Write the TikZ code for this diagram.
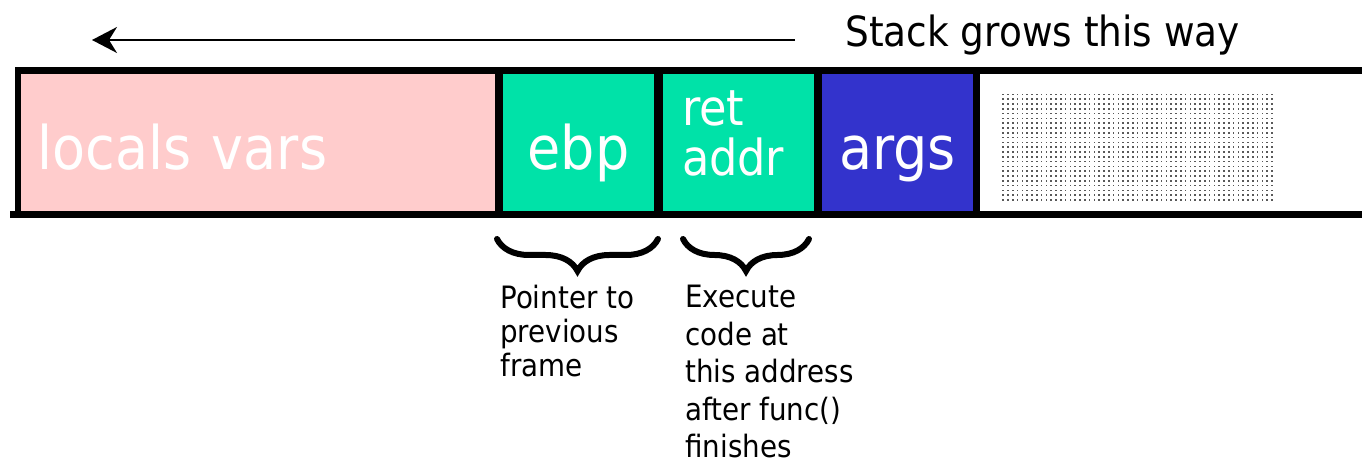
\documentclass[tikz,border=0pt]{standalone}
\usepackage{fontspec}
\setmainfont{DejaVu Sans Condensed}
\usetikzlibrary{positioning,arrows.meta,decorations.pathreplacing,patterns,backgrounds}
\definecolor{LocalPink}{HTML}{FFCCCC}
\definecolor{FrameGreen}{HTML}{00E2A8}
\definecolor{ArgBlue}{HTML}{3333CC}
\pgfdeclarepatternformonly{finedots}{\pgfqpoint{-1pt}{-1pt}}{\pgfqpoint{1pt}{1pt}}{\pgfqpoint{2.4pt}{2.4pt}}{%
  \pgfpathrectangle{\pgfqpoint{-0.4pt}{-0.4pt}}{\pgfqpoint{0.8pt}{0.8pt}}\pgfusepath{fill}}

\begin{document}
\begin{tikzpicture}[
    cell/.style={inner sep=0pt, outer sep=0pt, minimum height=68.5pt, text=white},
    bigtext/.style={font=\fontsize{30}{34}\selectfont, text height=27.5pt, text depth=0pt},
    note/.style={align=left, inner sep=0pt},
    brace/.style={decorate, decoration={brace, amplitude=16pt, mirror},
      line width=3pt, line cap=round},
    growarrow/.style={-{Stealth[length=12.5pt, width=13pt, inset=4pt]}, line width=1pt}
  ]
    \useasboundingbox (0,0) rectangle (681pt,-232pt);
    \node[cell, bigtext, fill=LocalPink, minimum width=237pt, align=left, text width=220pt] (locals) at (129pt,-71.25pt) {locals vars};
    \node[cell, bigtext, fill=FrameGreen, minimum width=75.5pt, right=4pt of locals] (ebp) {ebp};
    \node[cell, fill=FrameGreen, minimum width=75.5pt, right=4.5pt of ebp, align=left, text width=56.5pt,
      text depth=34.5pt, font=\fontsize{24.8}{25}\selectfont] (ret) {ret\\addr};
    \node[cell, bigtext, fill=ArgBlue, minimum width=75.5pt, right=4pt of ret] (args) {args};
    \node[cell, fill=white, minimum width=191pt, right=3.5pt of args] (rest) {};
    \node[cell, minimum width=136.5pt, minimum height=54.5pt, pattern=finedots, pattern color=black!65,
      anchor=west] (oldframe) at ([shift={(11pt,-2.5pt)}]rest.west) {};
    \begin{pgfonlayer}{background}
      \fill ([shift={(-3pt,3.5pt)}]locals.north west) rectangle ([yshift=-3.5pt]rest.south east);
      \fill ([shift={(-5.5pt,-3.5pt)}]locals.south west) rectangle (locals.south west);
    \end{pgfonlayer}
    \draw[brace] ([shift={(-3pt,-14pt)}]ebp.south west) -- ([shift={(2pt,-14pt)}]ebp.south east);
    \draw[brace] ([shift={(10pt,-14pt)}]ret.south west) -- ([shift={(-2.5pt,-14pt)}]ret.south east);
    \node[note, anchor=north west, font=\fontsize{15.4}{17}\selectfont] (ptrnote) at ([shift={(-1.5pt,-37pt)}]ebp.south west) {Pointer to\\previous\\frame};
    \node[note, anchor=north west, font=\fontsize{15.4}{18.7}\selectfont] (retnote) at ([shift={(11pt,-37pt)}]ret.south west) {Execute\\code at\\this address\\after func()\\finishes};
    \node[anchor=west, inner sep=0pt, font=\fontsize{20.8}{24}\selectfont] (grows) at (422.5pt,-17.5pt) {Stack grows this way};
    \coordinate (growend) at (46pt,-20pt);
    \draw[growarrow] ([shift={(-25pt,-2.5pt)}]grows.west) -- (growend);
  \end{tikzpicture}
\end{document}
